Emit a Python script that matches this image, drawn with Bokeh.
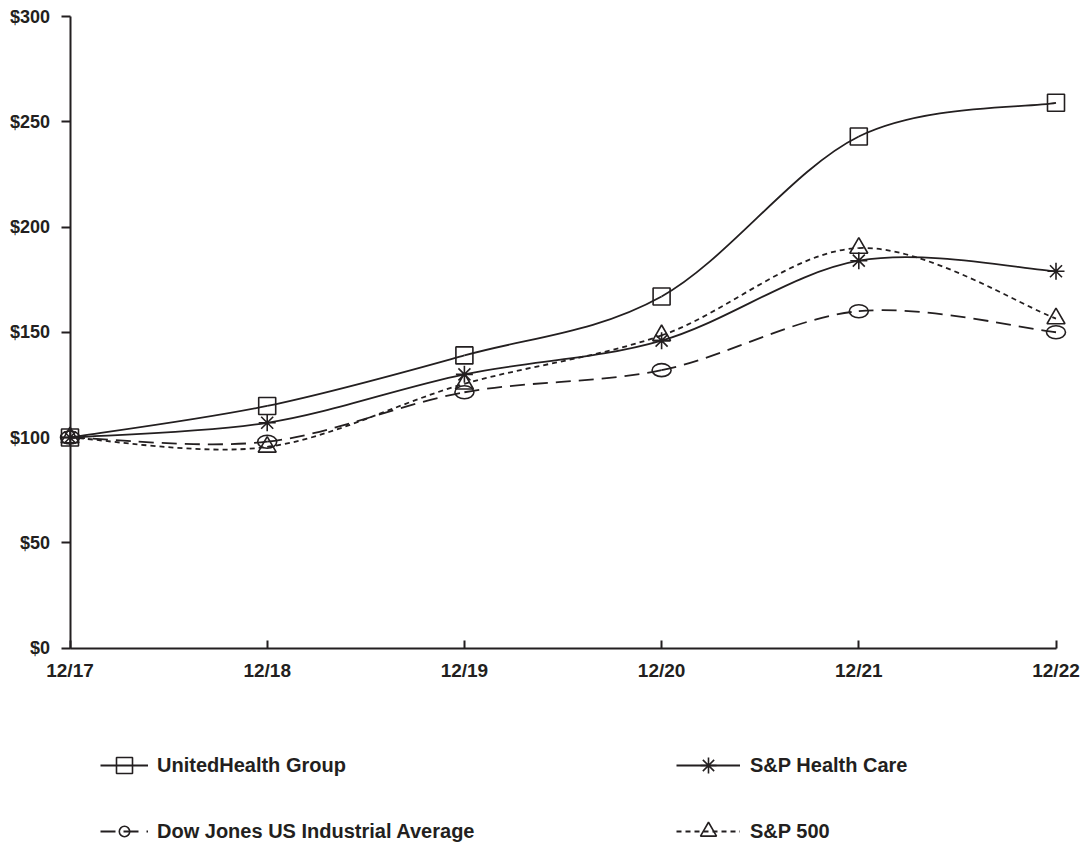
from bokeh.plotting import figure
from bokeh.models import (Range1d, LinearAxis, FixedTicker, Legend, LegendItem,
                          ColumnDataSource)
from bokeh.embed import file_html
from bokeh.resources import INLINE

# ---- data ----
periods = ["12/17", "12/18", "12/19", "12/20", "12/21", "12/22"]
unh = [100, 115, 139, 167, 243, 259]        # UnitedHealth Group
hc = [100, 107, 130, 146, 184, 179]         # S&P Health Care
dj = [100, 98, 121.5, 132, 160, 150]        # Dow Jones US Industrial Average
sp500 = [100, 95.5, 125.5, 148.5, 190, 156.5]  # S&P 500

y_ticks = [0, 50, 100, 150, 200, 250, 300]
y_labels = ["$0", "$50", "$100", "$150", "$200", "$250", "$300"]

INK = "#231f20"
FONT = "Liberation Sans"

xs = list(range(len(periods)))

# ---- layout (pixels on the canvas) ----
W, H = 1082, 852
X0_PX, X5_PX = 69.5, 1055.5     # where 12/17 and 12/22 sit
Y0_PX, Y300_PX = 647.5, 16.0     # where $0 and $300 sit (from the top)
kx = (X5_PX - X0_PX) / 5.0
ky = (Y0_PX - Y300_PX) / 300.0
x_lo = -X0_PX / kx
x_hi = (W - X0_PX) / kx
y_lo = -(H - Y0_PX) / ky
y_hi = 300 + Y300_PX / ky


def curve_source(ys):
    """Smooth (Excel-style) cubic Bezier segments through the data points."""
    n = len(ys)

    def P(i):
        i = max(0, min(n - 1, i))
        return xs[i], ys[i]

    d = dict(x0=[], y0=[], x1=[], y1=[], cx0=[], cy0=[], cx1=[], cy1=[])
    for i in range(n - 1):
        xa, ya = P(i)
        xb, yb = P(i + 1)
        xp, yp = P(i - 1)
        xn, yn = P(i + 2)
        d["x0"].append(xa); d["y0"].append(ya)
        d["x1"].append(xb); d["y1"].append(yb)
        d["cx0"].append(xa + (xb - xp) / 6); d["cy0"].append(ya + (yb - yp) / 6)
        d["cx1"].append(xb - (xn - xa) / 6); d["cy1"].append(yb - (yn - ya) / 6)
    return ColumnDataSource(d)


p = figure(width=W, height=H,
           x_range=Range1d(x_lo, x_hi), y_range=Range1d(y_lo, y_hi),
           output_backend="svg", toolbar_location=None,
           x_axis_location=None, y_axis_location=None,
           min_border_left=0, min_border_right=0,
           min_border_top=0, min_border_bottom=0)
p.outline_line_color = None
p.xgrid.grid_line_color = None
p.ygrid.grid_line_color = None
p.background_fill_color = "white"
p.border_fill_color = "white"


def style_axis(ax):
    ax.axis_line_color = INK
    ax.axis_line_width = 2
    ax.major_tick_line_color = INK
    ax.major_tick_line_width = 2
    ax.minor_tick_line_color = None
    ax.major_label_text_font = FONT
    ax.major_label_text_font_style = "bold"
    ax.major_label_text_font_size = "18px"
    ax.major_label_text_color = INK


# x axis along $0
xa = LinearAxis(fixed_location=0)
xa.ticker = FixedTicker(ticks=xs)
xa.major_label_overrides = {i: lab for i, lab in zip(xs, periods)}
xa.bounds = (0, len(periods) - 1)
style_axis(xa)
xa.major_label_text_font_size = "19px"
xa.major_tick_in = 8
xa.major_tick_out = 0
xa.major_label_standoff = 12
p.add_layout(xa, "below")

# y axis at 12/17
ya = LinearAxis(fixed_location=0)
ya.ticker = FixedTicker(ticks=y_ticks)
ya.major_label_overrides = {t: lab for t, lab in zip(y_ticks, y_labels)}
ya.bounds = (0, 300)
style_axis(ya)
ya.major_tick_in = 0
ya.major_tick_out = 9
ya.major_label_standoff = 11
p.add_layout(ya, "left")

LW = 1.8


def series(ys, dash, marker, size):
    src = curve_source(ys)
    pts = ColumnDataSource(dict(x=xs, y=ys))
    if marker == "ellipse":
        p.ellipse(x="x", y="y", width=19, height=13, width_units="screen",
                  height_units="screen", source=pts, fill_color=None,
                  line_color=INK, line_width=1.6)
        # zero-size circle: invisible on the chart, gives the key its small circle
        m = p.scatter(x="x", y="y", marker="circle", size=0, source=pts,
                      fill_color=None, line_color=INK, line_width=1.6)
    else:
        m = p.scatter(x="x", y="y", marker=marker, size=size, source=pts,
                      fill_color=None, line_color=INK, line_width=1.6)
    c = p.bezier(x0="x0", y0="y0", x1="x1", y1="y1", cx0="cx0", cy0="cy0",
                 cx1="cx1", cy1="cy1", source=src, line_color=INK,
                 line_width=LW, line_dash=dash)
    return [c, m]


r_unh = series(unh, "solid", "square", 17)
r_hc = series(hc, "solid", "asterisk", 17)
r_dj = series(dj, "15 8", "ellipse", 0)
r_sp = series(sp500, "5 4", "triangle", 18)


def add_key(label, renderers, x, center_from_bottom, gw, gh, standoff):
    lg = Legend(items=[LegendItem(label=label, renderers=renderers)],
                location=(x, center_from_bottom - gh / 2),
                orientation="vertical", padding=0, margin=0, spacing=0,
                glyph_width=gw, glyph_height=gh, label_height=gh,
                label_standoff=standoff,
                border_line_color=None, background_fill_alpha=0,
                label_text_font=FONT, label_text_font_style="bold",
                label_text_font_size="20px", label_text_color=INK)
    p.add_layout(lg)


ROW1 = H - 765   # key row centres, measured from the canvas bottom
ROW2 = H - 831
add_key("UnitedHealth Group", r_unh, 100, ROW1, 48, 40, 9)
add_key("Dow Jones US Industrial Average", r_dj, 100, ROW2, 48, 26, 9)
add_key("S&P Health Care", r_hc, 676, ROW1, 64, 40, 10)
add_key("S&P 500", r_sp, 676, ROW2, 64, 40, 10)

open("out.html", "w").write(file_html(p, INLINE))
